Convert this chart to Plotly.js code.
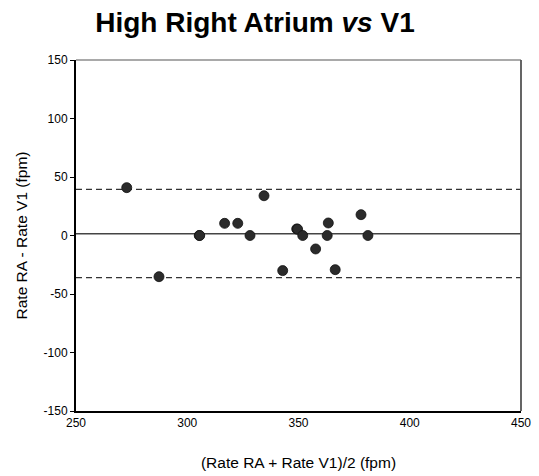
<!DOCTYPE html>
<html>
<head>
<meta charset="utf-8">
<script src="https://cdn.plot.ly/plotly-3.0.1.min.js"></script>
<style>html,body{margin:0;padding:0;background:#fff;}#chart{width:539px;height:476px;}</style>
</head>
<body>
<div id="chart"></div>
<script>
// Bland-Altman data: mean of the two rates vs difference
const meanRate = [272.8, 287.3, 305.4, 305.6, 316.8, 322.7, 328.2, 334.5, 342.9, 349.2, 349.6, 351.9, 357.7, 363.4, 362.9, 366.5, 378.1, 381.2];
const diffRate = [40.9, -35.2, 0, 0, 10.4, 10.4, 0, 34, -30, 5.6, 5.4, 0, -11.5, 10.7, 0, -29.2, 17.8, 0];
const meanDiff = 1.4;
const upperLimit = 39.5;
const lowerLimit = -36;
const xRange = [250, 450];
const yRange = [-150, 150];
const xTicks = [250, 300, 350, 400, 450];
const yTicks = [-150, -100, -50, 0, 50, 100, 150];

const font = 'Liberation Sans, Arial, sans-serif';

const traces = [
  {x: xRange, y: [upperLimit, upperLimit], mode: 'lines', line: {color: '#333', width: 1.3, dash: '6px,4px'}, hoverinfo: 'skip'},
  {x: xRange, y: [lowerLimit, lowerLimit], mode: 'lines', line: {color: '#333', width: 1.3, dash: '6px,4px'}, hoverinfo: 'skip'},
  {x: xRange, y: [meanDiff, meanDiff], mode: 'lines', line: {color: '#444', width: 1.5}, hoverinfo: 'skip'},
  {x: meanRate, y: diffRate, mode: 'markers', marker: {size: 10, color: '#2b2b2b', line: {color: '#111', width: 0.8}}}
];

const layout = {
  width: 539, height: 476,
  margin: {l: 76, r: 18, t: 60, b: 65},
  paper_bgcolor: '#fff', plot_bgcolor: '#fff',
  showlegend: false,
  font: {family: font, color: '#000'},
  title: {text: 'High Right Atrium <i>vs</i> V1', font: {family: font, size: 28, color: '#000', weight: 'bold'},
          xref: 'container', yref: 'container', x: 255/539, xanchor: 'center', y: 1 - 22/476, yanchor: 'middle'},
  xaxis: {range: xRange, tickvals: xTicks, ticktext: xTicks.map(String), showgrid: false, zeroline: false,
          showline: true, linecolor: '#000', linewidth: 1.5, ticks: '', tickfont: {size: 12, family: font},
          title: {text: '(Rate RA + Rate V1)/2 (fpm)', font: {size: 15.5, family: font}, standoff: 28}},
  yaxis: {range: yRange, tickvals: yTicks, ticktext: yTicks.map(String), showgrid: false, zeroline: false,
          showline: true, linecolor: '#000', linewidth: 2, ticks: 'outside', ticklen: 4, tickcolor: '#000', tickwidth: 1,
          tickfont: {size: 12, family: font},
          title: {text: 'Rate RA - Rate V1 (fpm)', font: {size: 15.5, family: font}, standoff: 12}},
  shapes: [
    {type: 'line', xref: 'paper', yref: 'paper', x0: 0, x1: 1, y0: 1, y1: 1, line: {color: '#555', width: 1.2}},
    {type: 'line', xref: 'paper', yref: 'paper', x0: 1, x1: 1, y0: 0, y1: 1, line: {color: '#555', width: 1.8}}
  ]
};

Plotly.newPlot('chart', traces, layout, {displayModeBar: false, staticPlot: true});
</script>
</body>
</html>
